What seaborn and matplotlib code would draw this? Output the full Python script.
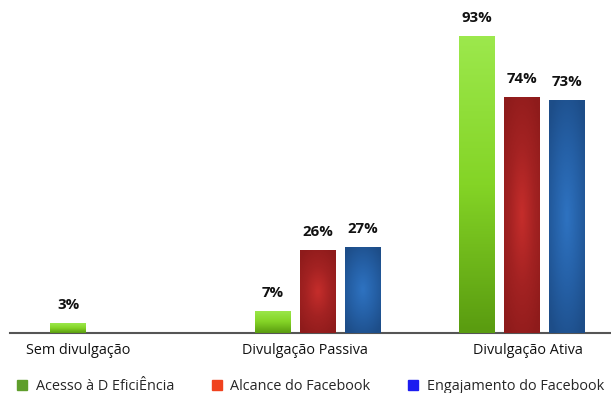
import numpy as np
import pandas as pd
import matplotlib
matplotlib.use("Agg")
import matplotlib.pyplot as plt
from matplotlib.lines import Line2D
from matplotlib.colors import LinearSegmentedColormap
import seaborn as sns

categories = ["Sem divulgação", "Divulgação Passiva", "Divulgação Ativa"]
series = ["Acesso à D EficiÊncia", "Alcance do Facebook", "Engajamento do Facebook"]
acesso = [3, 7, 93]
alcance = [np.nan, 26, 74]
engajamento = [np.nan, 27, 73]

rows = []
for s, vals in zip(series, [acesso, alcance, engajamento]):
    for c, v in zip(categories, vals):
        rows.append({"categoria": c, "serie": s, "valor": v})
df = pd.DataFrame(rows)

sns.set_theme(style="white")
plt.rcParams["font.family"] = ["Open Sans", "DejaVu Sans"]

fig = plt.figure(figsize=(6.11, 3.93), dpi=100)
ax = fig.add_axes([10 / 611, 60 / 393, 601 / 611, 319 / 393])

base_colors = ["#6cbf1c", "#b52424", "#2766ad"]
sns.barplot(data=df, x="categoria", y="valor", hue="serie", order=categories,
            hue_order=series, palette=base_colors, width=0.66, gap=0.2,
            legend=False, ax=ax, saturation=1)

ax.set_ylim(0, 100)
ax.set_xlim(-0.504, 2.435)

# gradient fills clipped to bars
grad_green = LinearSegmentedColormap.from_list("g", ["#5a9c10", "#84d426", "#9ce84c"])
red_cmap = LinearSegmentedColormap.from_list("r", ["#c42d2b", "#a32222", "#8e1b1b"])
blue_cmap = LinearSegmentedColormap.from_list("b", ["#2e72c0", "#2560a6", "#1d4d88"])
for cont, kind in zip(ax.containers, ["g", "r", "b"]):
    for p in cont.patches:
        h = p.get_height()
        if not np.isfinite(h) or h <= 0:
            continue
        x0, w = p.get_x(), p.get_width()
        if kind == "g":
            img = np.linspace(0, 1, 64).reshape(-1, 1) * np.ones((1, 8))
            cmap = grad_green
        else:
            yy, xx = np.mgrid[-1:1:64j, -1:1:64j]
            img = np.clip(np.sqrt(xx ** 2 * 0.5 + yy ** 2 * 0.7), 0, 1)
            cmap = red_cmap if kind == "r" else blue_cmap
        im = ax.imshow(img, extent=[x0, x0 + w, 0, h], origin="lower", cmap=cmap,
                       aspect="auto", zorder=3, interpolation="bilinear")
        im.set_clip_path(p)
    ax.bar_label(cont, fmt="%d%%", padding=8, fontsize=10.8,
                 fontweight="bold", color="#111111")

ax.set_xlim(-0.504, 2.435)
ax.set_ylim(0, 100)

for s in ["left", "right", "top"]:
    ax.spines[s].set_visible(False)
ax.spines["bottom"].set_color("#555555")
ax.spines["bottom"].set_linewidth(1.5)
ax.set_yticks([])
label_offsets = [-0.17, -0.06, 0.03]
ax.set_xticks([i + o for i, o in enumerate(label_offsets)])
ax.set_xticklabels(categories, fontsize=10.4, color="#111111")
ax.tick_params(axis="x", length=0, pad=7)
ax.set_xlabel("")
ax.set_ylabel("")

legend_colors = ["#5f9e2c", "#f0421e", "#1c1cf0"]
handles = [Line2D([], [], marker="s", linestyle="", markersize=7, color=c)
           for c in legend_colors]
fig.legend(handles, series, loc="lower left", bbox_to_anchor=(0.003, -0.035),
           ncol=3, frameon=False, fontsize=10.4, handletextpad=0.45,
           columnspacing=2.45, handlelength=1.0)

fig.savefig("out.png", dpi=100)
